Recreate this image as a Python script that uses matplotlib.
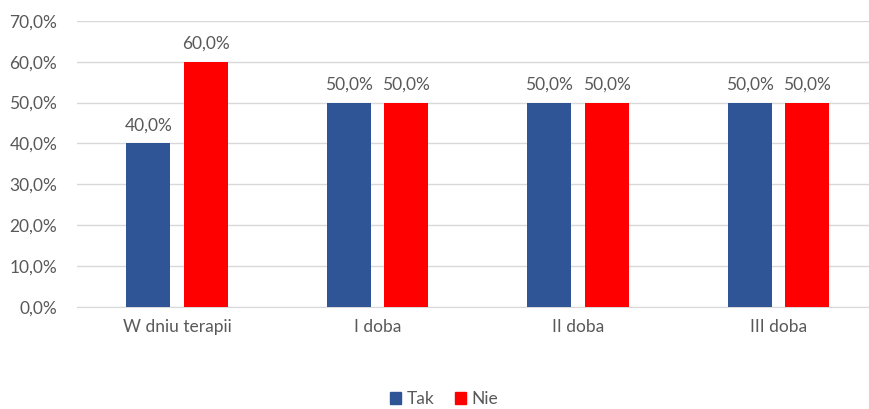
import matplotlib.pyplot as plt
import numpy as np
from matplotlib.ticker import FuncFormatter, MultipleLocator
from matplotlib.patches import Patch

# data
categories = ["W dniu terapii", "I doba", "II doba", "III doba"]
tak = [40.0, 50.0, 50.0, 50.0]
nie = [60.0, 50.0, 50.0, 50.0]
series_names = ["Tak", "Nie"]

BLUE = "#2F5597"
RED = "#FF0000"
TEXT = "#595959"
GRID = "#D9D9D9"
FS = 12.5

plt.rcParams["font.family"] = ["Lato", "DejaVu Sans"]

fig = plt.figure(figsize=(8.7, 4.09), dpi=100)
ax = fig.add_axes([76.75 / 870, 0.2501, 802 / 870, 0.6986])

x = np.arange(len(categories))
width = 0.22
off = 0.1435

ax.bar(x - off, tak, width, color=BLUE, zorder=3)
ax.bar(x + off, nie, width, color=RED, zorder=3)

for xi, v in zip(x, tak):
    ax.text(xi - off, v + 2.4, f"{v:.1f}%".replace(".", ","), ha="center",
            va="bottom", fontsize=FS, color=TEXT)
for xi, v in zip(x, nie):
    ax.text(xi + off, v + 2.4, f"{v:.1f}%".replace(".", ","), ha="center",
            va="bottom", fontsize=FS, color=TEXT)

ax.set_xlim(-0.5, len(categories) - 0.5)
ax.set_ylim(0, 70)
ax.yaxis.set_major_locator(MultipleLocator(10))
ax.yaxis.set_major_formatter(FuncFormatter(lambda v, p: f"{v:.1f}%".replace(".", ",")))
ax.grid(axis="y", color=GRID, linewidth=1, zorder=0)
ax.set_xticks(x)
ax.set_xticklabels(categories)
ax.tick_params(axis="both", length=0, labelsize=FS, colors=TEXT)
ax.tick_params(axis="x", pad=9)
ax.tick_params(axis="y", pad=14)

for s in ["top", "right", "left"]:
    ax.spines[s].set_visible(False)
ax.spines["bottom"].set_color(GRID)

handles = [Patch(color=BLUE, label=series_names[0]), Patch(color=RED, label=series_names[1])]
fig.legend(handles=handles, loc="center", bbox_to_anchor=(444 / 870, 1 - 399 / 409),
           ncol=2, frameon=False, fontsize=FS, labelcolor=TEXT,
           handlelength=0.65, handleheight=0.65, handletextpad=0.3, columnspacing=1.2,
           borderpad=0.1)

fig.savefig("out.png", dpi=100)
